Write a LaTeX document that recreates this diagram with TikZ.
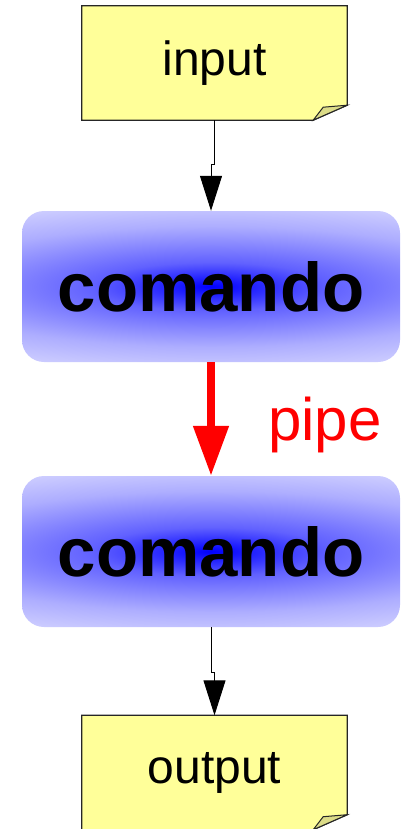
\documentclass[tikz,border=0pt]{standalone}
\usepackage{fontspec}
\setmainfont{Liberation Sans}
\usetikzlibrary{arrows.meta,calc}
\definecolor{notefill}{HTML}{FFFF99}
\definecolor{foldfill}{HTML}{DCDC88}
\definecolor{pipered}{HTML}{FF0000}
\pgfdeclareradialshading{blueglow}{\pgfpoint{0bp}{0bp}}{color(0bp)=(blue); color(8bp)=(blue!62); color(20bp)=(blue!32); color(30bp)=(blue!16); color(50bp)=(blue!6)}
\begin{document}
\begin{tikzpicture}[x=1pt,y=-1pt,
  notebox/.style={rectangle, minimum width=265pt, minimum height=114pt, inner sep=0pt,
    font=\fontsize{48}{56}\selectfont},
  notedraw/.style={draw=black!85, line width=1.3pt, line join=miter},
  cmdbox/.style={rectangle, rounded corners=22pt, minimum width=378pt, minimum height=151pt,
    inner sep=0pt, font=\fontsize{69}{80}\selectfont\bfseries,
    path picture={\shade[shading=blueglow]
      ([xshift=-180pt]path picture bounding box.south west) rectangle
      ([xshift=180pt]path picture bounding box.north east);}},
  flow/.style={draw=black, line width=1pt, -{Triangle[width=22pt,length=35pt]}},
  pipeflow/.style={draw=pipered, line width=8pt, -{Triangle[width=34pt,length=50pt]}},
  pipelabel/.style={text=pipered, font=\fontsize{60}{70}\selectfont, anchor=base, inner sep=0pt}
]
\useasboundingbox (0,0) rectangle (403,829);

% notes
\node[notebox] (input) at (214.5,63) {};
\node[notebox] (output) at (214.5,772.5) {};
\foreach \n in {input,output}{
  \draw[notedraw, fill=notefill] (\n.north west) -- (\n.north east)
     -- ($(\n.south east)+(0,-15)$) -- ($(\n.south east)+(-34,0)$)
     -- (\n.south west) -- cycle;
  \draw[notedraw, fill=foldfill, line width=1pt] ($(\n.south east)+(-34,0)$)
     .. controls ($(\n.south east)+(-29,-6)$) .. ($(\n.south east)+(-24,-13)$)
     -- ($(\n.south east)+(0,-15)$) -- cycle;
}
\node[font=\fontsize{48}{56}\selectfont, inner sep=0pt] (inputtext) at (input.center) {input};
\node[font=\fontsize{48}{56}\selectfont, inner sep=0pt] (outputtext) at (output.center) {output};

% commands
\node[cmdbox] (c1) at (211,286.5) {comando};
\node[cmdbox] (c2) at (211,551.5) {comando};

% connectors
\coordinate (j1) at (0,165);
\coordinate (j2) at (0,672);
\draw[flow] (input.south) -- (input.south |- j1) -- (c1.north |- j1) -- (c1.north);
\draw[flow] (c2.south) -- (c2.south |- j2) -- (output.north |- j2) -- (output.north);
\draw[pipeflow] (c1.south) -- (c2.north);
\node[pipelabel] (pipe) at (325,440) {pipe};
\end{tikzpicture}
\end{document}
